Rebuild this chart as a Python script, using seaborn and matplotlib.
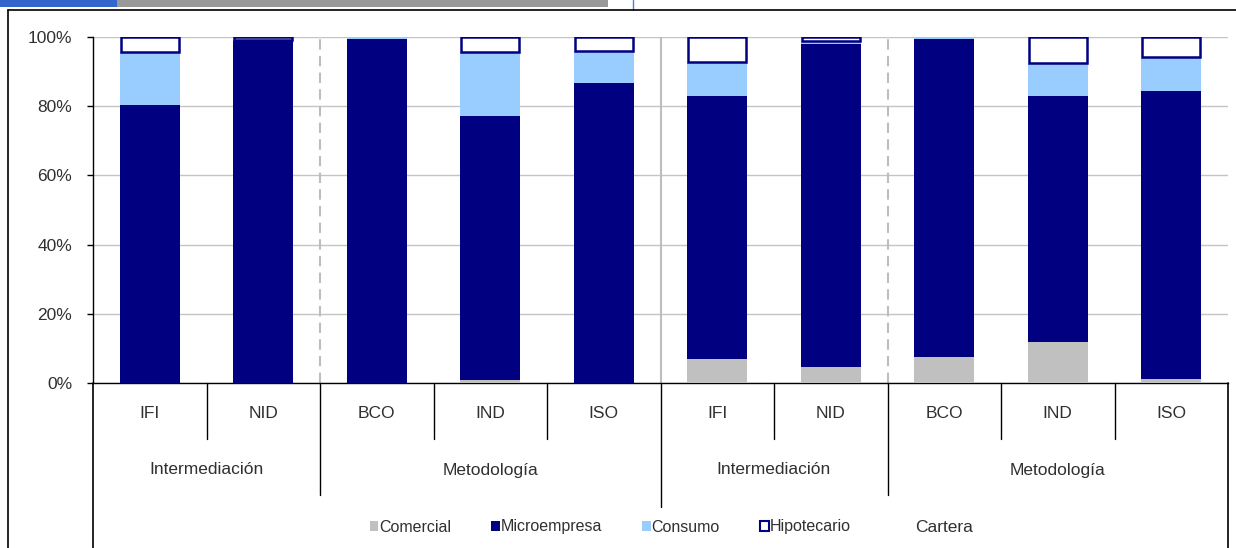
import numpy as np
import pandas as pd
import matplotlib
matplotlib.use("Agg")
import matplotlib.pyplot as plt
import seaborn as sns
from matplotlib.patches import Patch, Rectangle
from matplotlib.lines import Line2D

# datos (% de cartera)
categorias = ["IFI", "NID", "BCO", "IND", "ISO", "IFI", "NID", "BCO", "IND", "ISO"]
grupos = ["Intermediación", "Metodología", "Intermediación", "Metodología"]
grupo_tam = [2, 3, 2, 3]
conjuntos = ["", "Cartera"]
conjunto_tam = [5, 5]
comercial = [0.0, 0.0, 0.0, 0.8, 0.0, 6.9, 4.5, 7.4, 11.9, 1.1]
microempresa = [80.3, 98.8, 99.4, 76.4, 86.7, 76.0, 93.4, 92.0, 71.0, 83.3]
consumo = [15.3, 0.4, 0.6, 18.4, 9.3, 10.0, 1.0, 0.6, 9.5, 9.9]
hipotecario = [4.4, 0.8, 0.0, 4.4, 4.0, 7.1, 1.1, 0.0, 7.6, 5.7]

col_com = "#C0C0C0"
col_mic = "#000080"
col_con = "#99CCFF"
txt = "#303030"

df = pd.DataFrame({"pos": np.arange(len(categorias)),
                   "com": comercial, "mic": microempresa,
                   "con": consumo, "hip": hipotecario})
df["c1"] = df["com"]
df["c2"] = df["c1"] + df["mic"]
df["c3"] = df["c2"] + df["con"]

sns.set_style("white")
plt.rcParams["font.family"] = ["Liberation Sans", "DejaVu Sans"]

W, H = 1236, 548
fig = plt.figure(figsize=(W / 100, H / 100), dpi=100)
ax = fig.add_axes([93 / W, (H - 383) / H, (1228 - 93) / W, (383 - 37) / H])

bw = 0.53
# apilado: se dibuja del acumulado mayor al menor
sns.barplot(data=df, x="pos", y="c3", color=col_con, saturation=1, width=bw,
            linewidth=0, ax=ax, zorder=3)
sns.barplot(data=df, x="pos", y="c2", color=col_mic, saturation=1, width=bw,
            linewidth=0, ax=ax, zorder=3)
sns.barplot(data=df, x="pos", y="c1", color=col_com, saturation=1, width=bw,
            linewidth=0, ax=ax, zorder=3)
sns.barplot(data=df, x="pos", y="hip", color="white", saturation=1, width=bw - 0.015,
            edgecolor=col_mic, linewidth=1.8, ax=ax, zorder=4)
for rect, base, h in zip(ax.containers[-1], df["c3"], df["hip"]):
    rect.set_y(base)
    if h <= 0:
        rect.set_visible(False)

ax.set_xlim(-0.5, len(categorias) - 0.5)
ax.set_ylim(0, 100)
ax.set_yticks(range(0, 101, 20))
ax.set_yticklabels([f"{v}%" for v in range(0, 101, 20)], fontsize=12.5, color=txt)
ax.set_xticks([])
ax.set_xlabel("")
ax.set_ylabel("")
ax.yaxis.grid(True, color="#C4C4C4", lw=1)
ax.set_axisbelow(True)
ax.tick_params(axis="y", direction="out", length=4, width=1, color="black",
               left=True, pad=11)
for s in ["top", "right"]:
    ax.spines[s].set_visible(False)
for s in ["left", "bottom"]:
    ax.spines[s].set_color("black")
    ax.spines[s].set_linewidth(1)

# separadores dentro del area
lim_grupos = np.cumsum(grupo_tam)[:-1] - 0.5
lim_conj = np.cumsum(conjunto_tam)[:-1] - 0.5
for b in lim_grupos:
    if b in lim_conj:
        ax.axvline(b, color="#BDBDBD", lw=1.5, zorder=2)
    else:
        ax.axvline(b, color="#BDBDBD", lw=1.5, ls=(0, (5, 3)), zorder=2)

# eje de categorias multinivel
trans = ax.get_xaxis_transform()
ax_h = 383 - 37
def fy(py):
    return (383 - py) / ax_h

for i, c in enumerate(categorias):
    ax.text(i, fy(414), c, transform=trans, ha="center", va="center",
            fontsize=12.5, color=txt)
for b in np.arange(len(categorias) - 1) + 0.5:
    if b in lim_grupos:
        y_end = fy(507) if b in lim_conj else fy(495)
    else:
        y_end = fy(439)
    ax.add_line(Line2D([b, b], [0, y_end], transform=trans, color="black",
                       lw=1, clip_on=False))
ini = 0
for g, n in zip(grupos, grupo_tam):
    ax.text(ini + n / 2 - 0.5, fy(470), g, transform=trans, ha="center",
            va="center", fontsize=12.5, color=txt)
    ini += n
ini = 0
for g, n in zip(conjuntos, conjunto_tam):
    if g:
        ax.text(ini + n / 2 - 0.5, fy(527), g, transform=trans, ha="center",
                va="center", fontsize=12.5, color=txt)
    ini += n
for xe in [-0.5, len(categorias) - 0.5]:
    ax.add_line(Line2D([xe, xe], [0, fy(H)], transform=trans, color="black",
                       lw=1.2, clip_on=False))

# leyenda
handles = [Patch(facecolor=col_com, edgecolor="none"),
           Patch(facecolor=col_mic, edgecolor="none"),
           Patch(facecolor=col_con, edgecolor="none"),
           Patch(facecolor="white", edgecolor=col_mic, lw=1.5)]
labels = ["Comercial", "Microempresa", "Consumo", "Hipotecario"]
leg = fig.legend(handles, labels, loc="center", ncol=4, frameon=False,
                 bbox_to_anchor=(610 / W, 1 - 527 / H), fontsize=11.5,
                 handlelength=0.55, handleheight=0.55, handletextpad=0.05,
                 columnspacing=2.5)
for t in leg.get_texts():
    t.set_color(txt)

# marco y franja superior
fig.add_artist(Rectangle((0, 1 - 7 / H), 117 / W, 7 / H, transform=fig.transFigure,
                         color="#3366CC", lw=0))
fig.add_artist(Rectangle((117 / W, 1 - 7 / H), (608 - 117) / W, 7 / H,
                         transform=fig.transFigure, color="#999999", lw=0))
fig.add_artist(Line2D([633 / W, 633 / W], [1, 1 - 10 / H], transform=fig.transFigure,
                      color="#4A7FD4", lw=1))
fig.add_artist(Line2D([8 / W, 1], [1 - 10 / H, 1 - 10 / H], transform=fig.transFigure,
                      color="black", lw=1.2))
fig.add_artist(Line2D([8 / W, 8 / W], [0, 1 - 10 / H], transform=fig.transFigure,
                      color="black", lw=1.2))

fig.savefig("out.png", dpi=100)
